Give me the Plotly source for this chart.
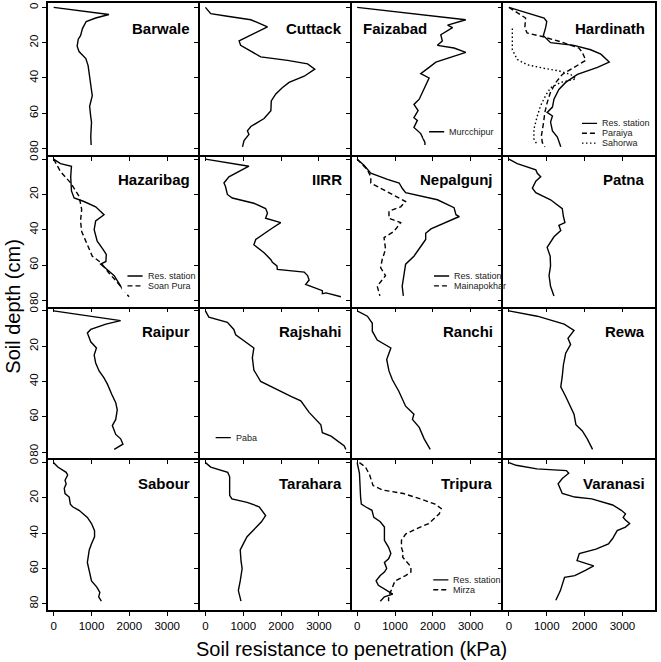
import plotly.graph_objects as go
from plotly.subplots import make_subplots

# depth (cm) / penetration resistance (kPa) profiles
barwale_depth = [0, 4, 6, 8, 12, 16, 18, 22, 25, 29, 33, 41, 47, 50, 56, 62, 65, 73, 78]
barwale_kpa = [0, 1460, 1110, 860, 760, 710, 650, 620, 670, 850, 910, 950, 1000, 1020, 950, 980, 1000, 980, 990]

cuttack_depth = [0, 3.5, 5, 7, 11, 15, 19, 21.5, 25.5, 28, 30, 32, 35, 39, 42.5, 45.5, 49, 53, 58.5, 63, 67.5, 70, 72, 75.5, 79]
cuttack_kpa = [0, 140, 580, 1200, 1640, 1280, 890, 930, 1240, 1460, 2170, 2700, 2890, 2610, 2210, 2030, 1860, 1740, 1730, 1550, 1200, 1110, 1150, 1020, 980]

faizabad_depth = [0, 7, 10, 11.5, 15.5, 19, 21.5, 23, 25.5, 27.5, 31, 34, 37.5, 40, 46, 52, 55, 58.5, 62.5, 64, 68, 71.5, 76.5, 78]
faizabad_kpa = [0, 2870, 2390, 2520, 2210, 2250, 2120, 2560, 2870, 2560, 2080, 1900, 1680, 1900, 1770, 1640, 1500, 1610, 1500, 1590, 1500, 1680, 1790, 1790]

hardinath_depth = [0, 3, 6, 8, 11.5, 16, 20, 21.5, 24, 26.5, 31, 34, 38, 42.5, 46.5, 52, 56.5, 59.5, 61.5, 65, 70, 73.5, 79]
hardinath_kpa = [0, 480, 930, 1000, 970, 910, 1100, 1720, 2160, 2430, 2650, 2340, 1810, 1500, 1320, 1190, 1150, 1010, 1150, 1100, 1150, 1280, 1370]
paraiya_depth = [0, 6, 11.5, 14.5, 16.5, 19.5, 23, 25.5, 30, 34, 38, 42.5, 48, 54, 59.5, 66, 72.5, 76.5, 79]
paraiya_kpa = [0, 440, 420, 480, 880, 1370, 1850, 1940, 2030, 1720, 1410, 1240, 1100, 1010, 950, 910, 860, 880, 950]
sahorwa_depth = [12, 24, 29.5, 32.5, 34.5, 36, 38, 40.5, 42.5, 45.5, 50, 55.5, 61.5, 69, 74.5, 78]
sahorwa_kpa = [90, 90, 220, 480, 930, 1320, 1630, 1770, 1370, 1100, 970, 840, 750, 660, 660, 750]

hazaribag_depth = [0, 2.5, 4, 10, 18, 22, 24, 27, 31.5, 35, 40, 46.5, 51, 54, 58, 59.5, 62, 66, 72, 75]
hazaribag_kpa = [0, 180, 470, 450, 470, 540, 800, 1110, 1330, 1110, 1070, 1150, 1300, 1390, 1380, 1240, 1380, 1600, 1770, 1850]
soanpura_depth = [0, 7, 13.5, 21, 28.5, 35, 41, 49, 55, 58.5, 64.5, 71, 78]
soanpura_kpa = [0, 180, 450, 670, 740, 710, 740, 890, 1020, 1240, 1460, 1730, 1990]

iirr_depth = [0, 4, 10, 13.5, 15.5, 20, 22, 25, 28, 30.5, 33.5, 36, 39, 42.5, 45.5, 48.5, 53, 57, 58.5, 60.5, 62.5, 64, 66, 68.5, 71, 74.5, 76.2, 75.8, 78]
iirr_kpa = [0, 1150, 620, 490, 530, 580, 710, 1280, 1590, 1640, 1590, 1990, 1770, 1550, 1330, 1280, 1550, 1730, 1770, 1890, 1900, 2610, 2700, 2740, 2650, 3090, 3090, 3190, 3580]

nepalgunj_depth = [0, 3.5, 8, 11.5, 13.5, 16.5, 19, 23, 27.5, 31.5, 32.5, 36, 39.5, 42, 45.5, 49.5, 55, 59.5, 66, 72, 77.5]
nepalgunj_kpa = [0, 180, 360, 800, 1110, 1190, 1280, 2120, 2560, 2610, 2700, 2300, 1950, 1810, 1810, 1680, 1500, 1280, 1240, 1190, 1220]
mainapokhar_depth = [0, 6, 10, 13.5, 18.5, 24, 27, 29.5, 33.5, 36, 41, 44.5, 51, 57, 61.5, 66, 72, 77.5]
mainapokhar_kpa = [0, 270, 360, 360, 800, 1280, 1150, 840, 840, 1150, 970, 710, 750, 660, 620, 750, 530, 600]

patna_depth = [0, 2.5, 6, 8, 10, 12.5, 16.5, 19, 23, 28, 32.5, 36, 37.5, 40.5, 44, 50, 55, 60.5, 66, 72, 77.5]
patna_kpa = [0, 220, 710, 750, 840, 710, 620, 710, 1100, 1410, 1440, 1480, 1320, 1370, 1190, 1010, 1090, 1100, 1060, 1100, 1190]

raipur_depth = [0, 5.5, 7.5, 10.5, 12.5, 17.5, 21, 25, 29.5, 34, 38, 41.5, 47.5, 52, 56, 61.5, 65, 70, 72.5, 75.5, 78.5]
raipur_kpa = [0, 1770, 1380, 980, 890, 980, 1130, 1070, 1110, 1200, 1330, 1420, 1540, 1640, 1680, 1640, 1550, 1640, 1770, 1830, 1600]

rajshahi_depth = [0, 3.5, 6.5, 10.5, 13.5, 21, 26.5, 33.5, 40, 43, 48.5, 51, 57.5, 64.5, 69, 71, 76.5, 78.5]
rajshahi_kpa = [0, 90, 580, 750, 800, 1280, 1240, 1280, 1460, 1730, 2260, 2520, 2740, 3050, 3090, 3320, 3670, 3710]

ranchi_depth = [0, 3, 7, 11.5, 16.5, 21, 27.5, 34, 39, 45.5, 54, 58.5, 61.5, 66, 72.5, 78.5]
ranchi_kpa = [0, 270, 400, 400, 530, 890, 780, 840, 930, 1100, 1280, 1500, 1460, 1640, 1770, 1930]

rewa_depth = [0, 3, 7.5, 11, 15.5, 19, 24, 30.5, 37, 43, 48.5, 54, 58.5, 64.5, 68, 72.5, 78.5]
rewa_kpa = [0, 750, 1460, 1720, 1560, 1630, 1500, 1440, 1410, 1370, 1500, 1630, 1720, 1770, 1940, 2070, 2210]

sabour_depth = [0, 2.5, 5.5, 7, 10, 12, 14.5, 17.5, 19.5, 23.5, 25, 27, 31, 34.5, 38.5, 42, 46, 49.5, 56.5, 62, 67, 70.5, 73.5, 76, 78.5]
sabour_kpa = [0, 110, 330, 370, 300, 330, 280, 300, 410, 440, 500, 670, 890, 1000, 1080, 1080, 1000, 940, 890, 940, 1000, 1140, 1220, 1190, 1260]

tarahara_depth = [0, 2.5, 5.5, 8, 14, 18.5, 20.5, 22.5, 25, 28, 30, 33.5, 37.5, 42, 46, 49.5, 55.5, 60, 67, 72.5, 78.5]
tarahara_kpa = [0, 140, 590, 640, 640, 640, 700, 1100, 1420, 1530, 1590, 1480, 1300, 1100, 1000, 920, 940, 970, 920, 870, 940]

tripura_depth = [0, 6, 19.5, 23.5, 25, 27, 31, 33.5, 36.5, 44, 48, 51.5, 54.5, 56.5, 60, 62, 64, 67, 69.5, 72.5, 74.5, 76, 78.5]
tripura_kpa = [0, 60, 90, 110, 220, 390, 440, 610, 720, 720, 830, 890, 830, 720, 780, 720, 610, 500, 560, 780, 940, 720, 610]
mirza_depth = [0, 2.5, 7, 13, 15.5, 17.5, 20.5, 23.5, 26, 29, 34.5, 37.5, 40.5, 44, 48, 51.5, 53.5, 56.5, 59, 62, 64, 67, 70.5, 76, 78.5]
mirza_kpa = [60, 220, 330, 420, 670, 1220, 1670, 2060, 2220, 2170, 1890, 1560, 1280, 1170, 1170, 1220, 1200, 1330, 1420, 1420, 1280, 1000, 940, 830, 830]

varanasi_depth = [0, 1.5, 3.5, 4.5, 6, 9, 12, 14.5, 17.5, 19.5, 20.5, 24, 27, 29, 31, 32.5, 34.5, 36.5, 38.5, 43, 46, 49, 51.5, 55.5, 57.5, 58.5, 61, 64, 65, 68.5, 72.5, 78]
varanasi_kpa = [0, 190, 740, 1520, 1580, 1410, 1300, 1360, 1410, 1740, 2190, 2740, 2970, 3080, 3020, 3080, 3190, 3080, 2860, 2740, 2630, 2300, 1860, 1800, 2080, 2240, 2020, 1740, 1470, 1410, 1360, 1240]

x_ticks = [0, 1000, 2000, 3000]
y_ticks = [0, 20, 40, 60, 80]

FONT = "Liberation Sans, Arial, sans-serif"
SOLID, DASH, DOT = "solid", "5px,3px", "1.5px,2.5px"

# (title, title on left?, [(series name, depth, kpa, dash)], legend (x, y) or None)
panels = [
    ("Barwale", False, [("Res. station", barwale_depth, barwale_kpa, SOLID)], None),
    ("Cuttack", False, [("Res. station", cuttack_depth, cuttack_kpa, SOLID)], None),
    ("Faizabad", True, [("Murcchipur", faizabad_depth, faizabad_kpa, SOLID)], (1900, 70.5)),
    ("Hardinath", False, [("Res. station", hardinath_depth, hardinath_kpa, SOLID),
                          ("Paraiya", paraiya_depth, paraiya_kpa, DASH),
                          ("Sahorwa", sahorwa_depth, sahorwa_kpa, DOT)], (1930, 65.7)),
    ("Hazaribag", False, [("Res. station", hazaribag_depth, hazaribag_kpa, SOLID),
                          ("Soan Pura", soanpura_depth, soanpura_kpa, DASH)], (1950, 66.2)),
    ("IIRR", False, [("Res. station", iirr_depth, iirr_kpa, SOLID)], None),
    ("Nepalgunj", False, [("Res. station", nepalgunj_depth, nepalgunj_kpa, SOLID),
                          ("Mainapokhar", mainapokhar_depth, mainapokhar_kpa, DASH)], (2030, 66.2)),
    ("Patna", False, [("Res. station", patna_depth, patna_kpa, SOLID)], None),
    ("Raipur", False, [("Res. station", raipur_depth, raipur_kpa, SOLID)], None),
    ("Rajshahi", False, [("Paba", rajshahi_depth, rajshahi_kpa, SOLID)], (270, 71.8)),
    ("Ranchi", False, [("Res. station", ranchi_depth, ranchi_kpa, SOLID)], None),
    ("Rewa", False, [("Res. station", rewa_depth, rewa_kpa, SOLID)], None),
    ("Sabour", False, [("Res. station", sabour_depth, sabour_kpa, SOLID)], None),
    ("Tarahara", False, [("Res. station", tarahara_depth, tarahara_kpa, SOLID)], None),
    ("Tripura", False, [("Res. station", tripura_depth, tripura_kpa, SOLID),
                        ("Mirza", mirza_depth, mirza_kpa, DASH)], (2010, 66.4)),
    ("Varanasi", False, [("Res. station", varanasi_depth, varanasi_kpa, SOLID)], None),
]

fig = make_subplots(rows=4, cols=4, horizontal_spacing=0, vertical_spacing=0)

annotations = []
shapes = []
for i, (title, left, series, legend) in enumerate(panels):
    row, col = i // 4 + 1, i % 4 + 1
    n = "" if i == 0 else str(i + 1)
    for name, depth, kpa, dash in series:
        fig.add_trace(
            go.Scatter(x=kpa, y=depth, mode="lines", name=name, showlegend=False,
                       line=dict(color="black", width=1.4, dash=dash), hoverinfo="skip"),
            row=row, col=col,
        )
    annotations.append(dict(
        text=f"<b>{title}</b>", xref=f"x{n} domain", yref=f"y{n} domain",
        x=0 if left else 1, xanchor="left" if left else "right", xshift=9 if left else -8,
        y=0.835, yanchor="middle", showarrow=False,
        font=dict(family=FONT, size=15, color="black"),
    ))
    if legend:
        lx, ly = legend
        step = 5.6
        ys = [ly + k * step for k in range(len(series))]
        # white legend box, like R's legend(bg="white")
        shapes.append(dict(type="rect", xref=f"x{n}", yref=f"y{n}", layer="above",
                           x0=lx - 150, x1=min(lx + 1650, 3750), y0=ys[0] - 3.8, y1=ys[-1] + 3.8,
                           fillcolor="white", line_width=0))
        for (name, _, _, dash), yy in zip(series, ys):
            shapes.append(dict(type="line", xref=f"x{n}", yref=f"y{n}", layer="above",
                               x0=lx, x1=lx + 400, y0=yy, y1=yy,
                               line=dict(color="black", width=1.4, dash=dash)))
            annotations.append(dict(
                text=name, xref=f"x{n}", yref=f"y{n}", x=lx + 480, y=yy,
                xanchor="left", yanchor="middle", showarrow=False,
                font=dict(family=FONT, size=9, color="#222"),
            ))

annotations.append(dict(
    text="Soil resistance to penetration (kPa)", xref="paper", yref="paper",
    x=0.5, y=-0.064, xanchor="center", yanchor="middle", showarrow=False,
    font=dict(family=FONT, size=20, color="black"),
))
annotations.append(dict(
    text="Soil depth (cm)", xref="paper", yref="paper",
    x=-0.059, y=0.5, xanchor="center", yanchor="middle", textangle=-90, showarrow=False,
    font=dict(family=FONT, size=20, color="black"),
))

axis_style = dict(
    showgrid=False, zeroline=False, showline=True, linecolor="black", linewidth=1.5,
    mirror=False, ticks="outside", ticklen=4, tickwidth=1, tickcolor="black",
    showticklabels=False, automargin=False,
    tickfont=dict(family=FONT, size=11.5, color="black"),
)
fig.update_xaxes(range=[-150, 3860], tickvals=x_ticks, **axis_style)
fig.update_yaxes(range=[83.5, -2.5], tickvals=y_ticks, tickangle=-90, **axis_style)
fig.update_xaxes(showticklabels=True, row=4)
fig.update_yaxes(showticklabels=True, col=1)
# close the outer frame: top edge on the first row, right edge on the last column
fig.update_xaxes(mirror=True, row=1)
fig.update_yaxes(mirror=True, col=4)

fig.update_layout(
    width=661, height=662,
    margin=dict(l=48, r=6, t=3, b=52, autoexpand=False),
    plot_bgcolor="white", paper_bgcolor="white",
    annotations=annotations, shapes=shapes,
    font=dict(family=FONT, color="black"),
)

# drop the browser's default 8px body margin so the figure sits at the page corner
fig.write_html("out.html", config={"displayModeBar": False},
               post_script="document.body.style.margin = '0px';")
